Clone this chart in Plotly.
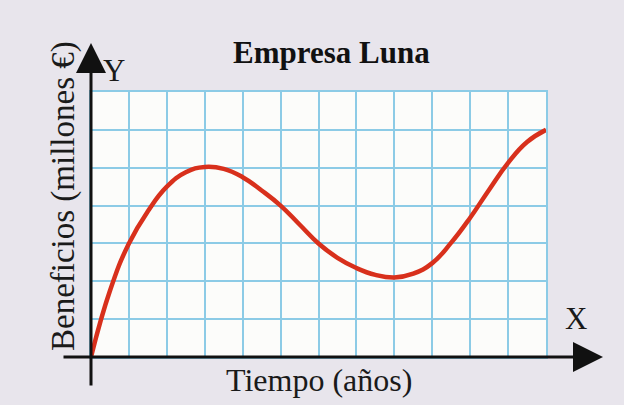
import plotly.graph_objects as go

# Data (grid units)
years = [0, 0.5, 1, 1.5, 2, 2.5, 3, 3.5, 4, 4.5, 5, 5.5, 6, 6.5, 7, 7.5, 8, 8.5, 9, 9.5, 10, 10.5, 11, 11.5, 12]
profit = [0, 1.75, 3.0, 3.85, 4.5, 4.88, 5.02, 4.97, 4.75, 4.4, 4.0, 3.5, 3.0, 2.62, 2.35, 2.17, 2.1, 2.2, 2.48, 3.02, 3.68, 4.42, 5.13, 5.68, 6.0]
x_range = [0, 12]
y_range = [0, 7]

title_text = "<b>Empresa Luna</b>"
x_title = "Tiempo (años)"
y_title = "Beneficios (millones €)"

SERIF = "Liberation Serif"
GRID = "#8ccbe6"
PAPER = "#e8e5ec"

fig = go.Figure()
fig.add_trace(go.Scatter(
    x=years, y=profit, mode="lines",
    line=dict(color="#d8301c", width=4.5, shape="spline", smoothing=1.3),
    cliponaxis=False, hoverinfo="skip", showlegend=False,
))

W, H = 624, 405
ml, mr, mt, mb = 91, 78, 92, 48
pw, ph = W - ml - mr, H - mt - mb

def px_x(p):
    return (p - ml) / pw

def px_y(p):
    return (H - mb - p) / ph

fig.update_layout(
    width=W, height=H,
    margin=dict(l=ml, r=mr, t=mt, b=mb),
    paper_bgcolor=PAPER,
    plot_bgcolor="#fcfcfa",
    font=dict(family=SERIF, color="#1a1a1a"),
    xaxis=dict(range=x_range, dtick=1, showgrid=True, gridcolor=GRID, gridwidth=1.5,
               zeroline=False, showticklabels=False, ticks="",
               showline=True, linecolor=GRID, linewidth=1.5, mirror=True, fixedrange=True),
    yaxis=dict(range=y_range, dtick=1, showgrid=True, gridcolor=GRID, gridwidth=1.5,
               zeroline=False, showticklabels=False, ticks="",
               showline=True, linecolor=GRID, linewidth=1.5, mirror=True, fixedrange=True),
)

ann = []
# axes with arrowheads
ann.append(dict(x=px_x(603), y=0, xref="paper", yref="paper", text="", showarrow=True,
                ax=62 - 603, ay=0, axref="pixel", ayref="pixel",
                arrowhead=2, arrowsize=2.0, arrowwidth=3, arrowcolor="#111111", standoff=0))
ann.append(dict(x=0, y=px_y(43), xref="paper", yref="paper", text="", showarrow=True,
                ax=0, ay=387 - 43, axref="pixel", ayref="pixel",
                arrowhead=2, arrowsize=2.0, arrowwidth=3, arrowcolor="#111111", standoff=0))
# labels
ann.append(dict(x=px_x(331), y=px_y(52), xref="paper", yref="paper", text=title_text,
                showarrow=False, font=dict(size=31, family=SERIF, color="#111111"),
                xanchor="center", yanchor="middle"))
ann.append(dict(x=px_x(319), y=px_y(380), xref="paper", yref="paper", text=x_title,
                showarrow=False, font=dict(size=32, family=SERIF, color="#1a1a1a"),
                xanchor="center", yanchor="middle"))
ann.append(dict(x=px_x(63), y=px_y(196), xref="paper", yref="paper", text=y_title,
                showarrow=False, textangle=-90, font=dict(size=33, family=SERIF, color="#1a1a1a"),
                xanchor="center", yanchor="middle"))
ann.append(dict(x=px_x(114), y=px_y(70), xref="paper", yref="paper", text="Y",
                showarrow=False, font=dict(size=31, family=SERIF, color="#1a1a1a"),
                xanchor="center", yanchor="middle"))
ann.append(dict(x=px_x(576), y=px_y(318), xref="paper", yref="paper", text="X",
                showarrow=False, font=dict(size=31, family=SERIF, color="#1a1a1a"),
                xanchor="center", yanchor="middle"))
fig.update_layout(annotations=ann)

fig.write_html(
    "out.html",
    config={"displayModeBar": False},
    post_script="document.body.style.margin='0';document.body.style.background='" + PAPER + "';",
)
